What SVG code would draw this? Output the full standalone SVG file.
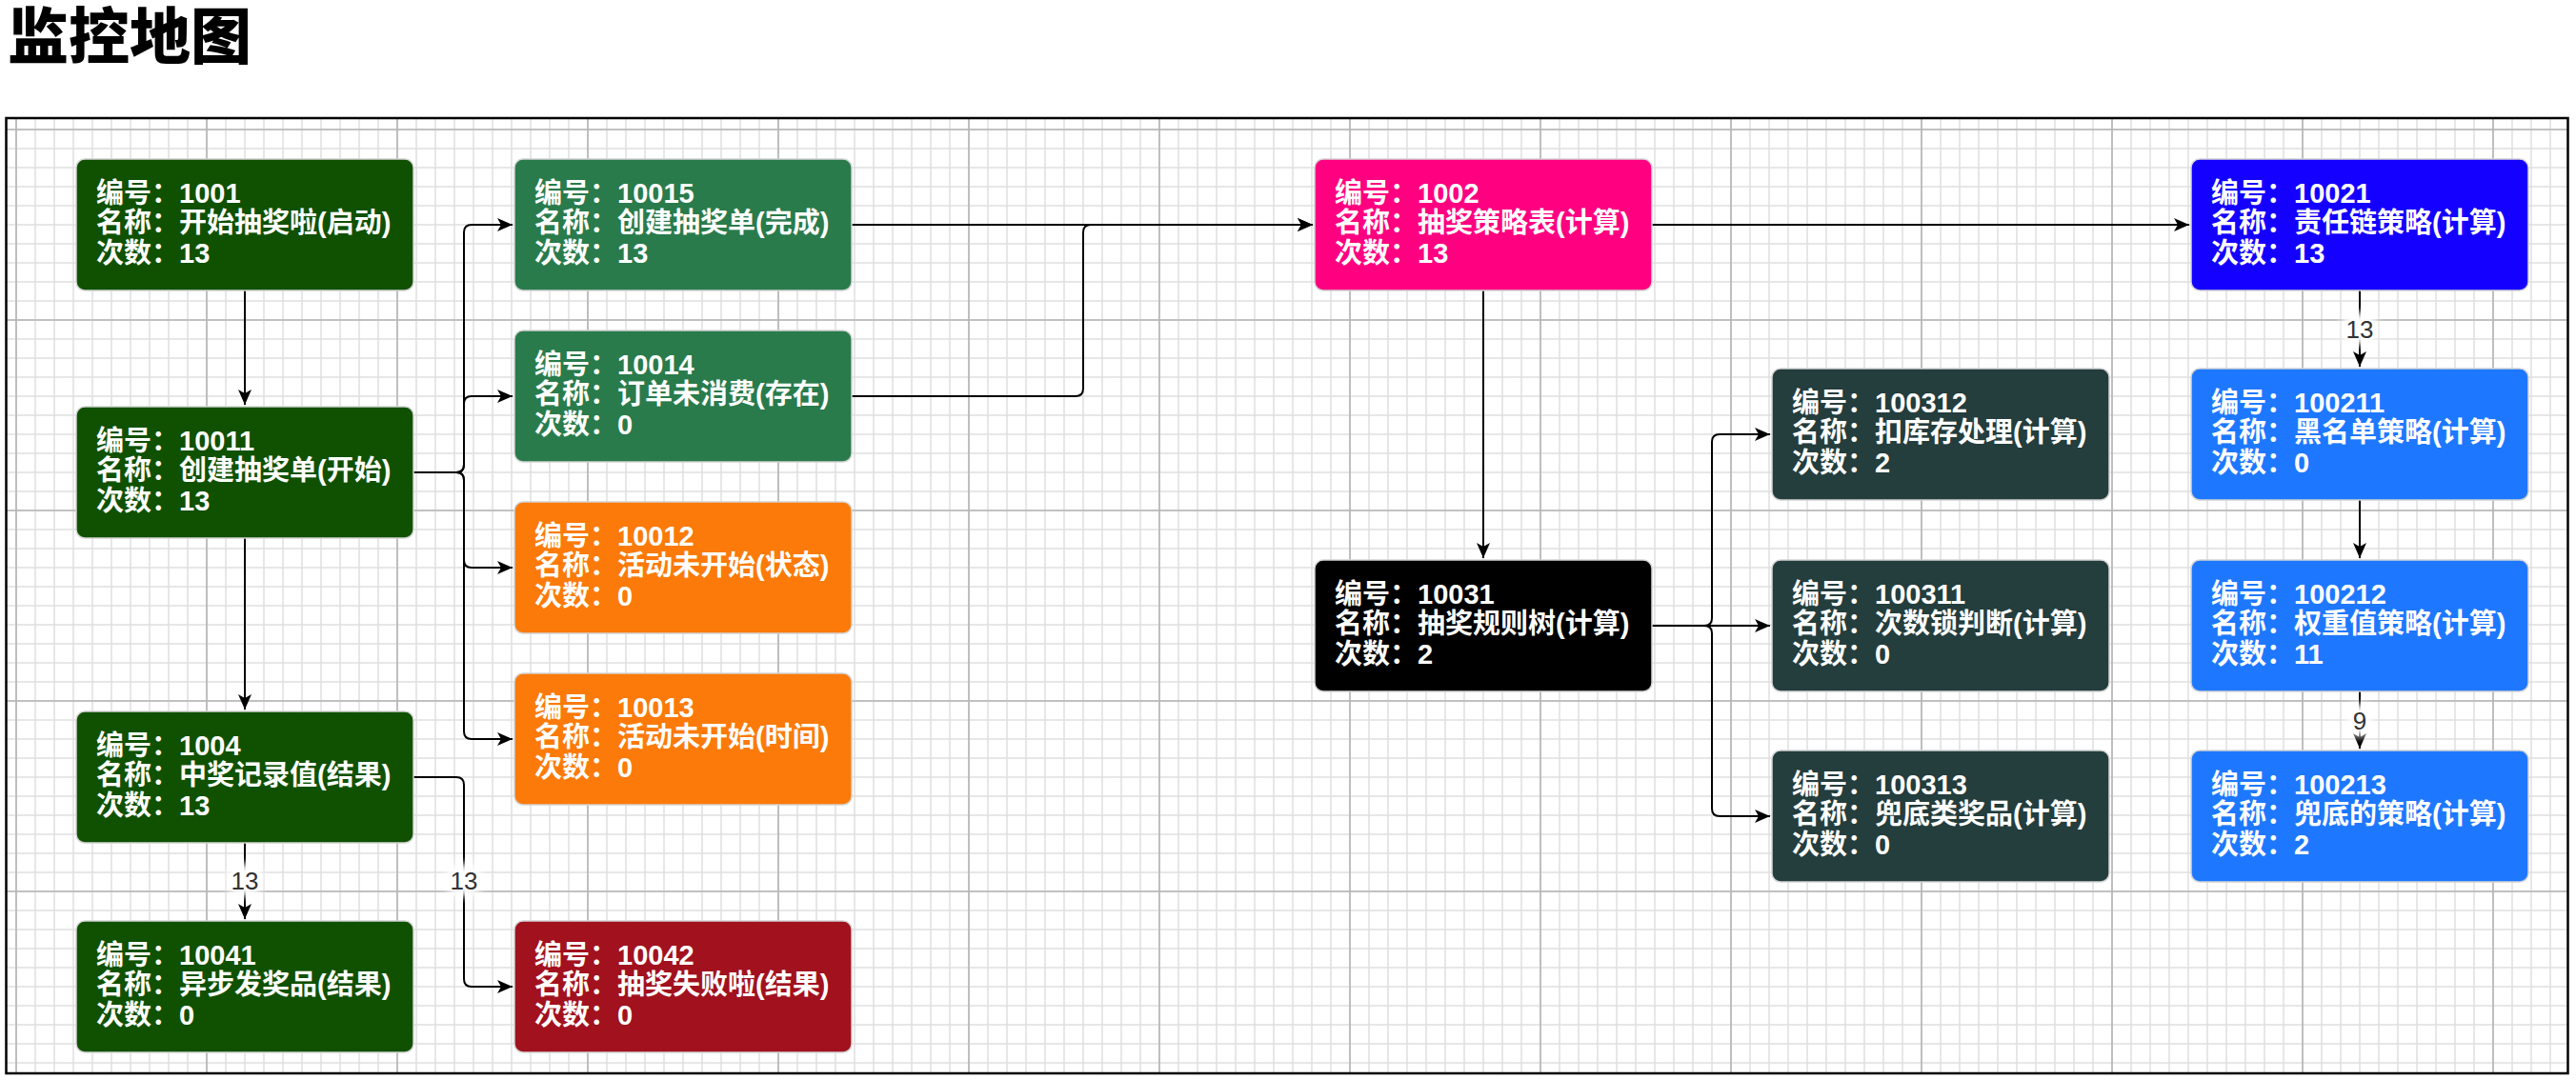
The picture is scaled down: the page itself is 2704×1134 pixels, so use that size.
<svg xmlns="http://www.w3.org/2000/svg" width="2704" height="1134" viewBox="0 0 2704 1134">
<defs>
<style>
.n rect{stroke:#d4d4d4;stroke-width:1.5}
.n text{font-family:"Liberation Sans","Noto Sans CJK SC",sans-serif;font-size:29px;font-weight:bold;fill:#fff}
.e{fill:none;stroke:#000;stroke-width:2;marker-end:url(#arr)}
.lbl{font-family:"Liberation Sans","Noto Sans CJK SC",sans-serif;font-size:26px;fill:#333;text-anchor:middle}
.lbg{fill:#fff;filter:url(#glow)}
.title{font-family:"Noto Sans CJK SC","Liberation Sans",sans-serif;font-size:64px;font-weight:900;fill:#000}
</style>
<pattern id="minor" patternUnits="userSpaceOnUse" x="7" y="126" width="20" height="20">
<path d="M10 0V20M0 10H20" stroke="#e0e0e0" stroke-width="1.5" fill="none"/>
</pattern>
<pattern id="major" patternUnits="userSpaceOnUse" x="-83" y="36" width="200" height="200">
<path d="M100 0V200M0 100H200" stroke="#b5b5b5" stroke-width="1.6" fill="none"/>
</pattern>
<marker id="arr" markerUnits="userSpaceOnUse" viewBox="0 0 18 16" markerWidth="18" markerHeight="16" refX="17" refY="8" orient="auto">
<path d="M1 1L17 8L1 15L5 8Z" fill="#000"/>
</marker>
<filter id="glow" x="-50%" y="-50%" width="200%" height="200%">
<feGaussianBlur stdDeviation="4"/>
</filter>
</defs>
<rect width="2704" height="1134" fill="#fff"/>
<text class="title" x="8" y="61">监控地图</text>
<g id="canvas">
<rect x="7" y="124" width="2688" height="1003" fill="url(#minor)"/>
<rect x="7" y="124" width="2688" height="1003" fill="url(#major)"/>
<rect x="6.5" y="124" width="2689" height="1003" fill="none" stroke="#000" stroke-width="2.5"/>
</g>
<g id="connectors">
<path class="e" d="M257 305V425"/>
<path class="e" d="M257 565V745"/>
<path class="e" d="M257 885V965"/>
<path class="e" d="M434 816H479Q487 816 487 824V1028Q487 1036 495 1036H538"/>
<path class="e" d="M434 496H479Q487 496 487 488V244Q487 236 495 236H538"/>
<path class="e" d="M434 496H479Q487 496 487 488V424Q487 416 495 416H538"/>
<path class="e" d="M434 496H479Q487 496 487 504V588Q487 596 495 596H538"/>
<path class="e" d="M434 496H479Q487 496 487 504V768Q487 776 495 776H538"/>
<path class="e" d="M894 236H1378"/>
<path class="e" d="M894 416H1129Q1137 416 1137 408V244Q1137 236 1145 236H1378"/>
<path class="e" d="M1557 305V586"/>
<path class="e" d="M1734 236H2298"/>
<path class="e" d="M1734 657H1789Q1797 657 1797 649V464Q1797 456 1805 456H1858"/>
<path class="e" d="M1734 657H1858"/>
<path class="e" d="M1734 657H1789Q1797 657 1797 665V849Q1797 857 1805 857H1858"/>
<path class="e" d="M2477 305V385"/>
<path class="e" d="M2477 525V586"/>
<path class="e" d="M2477 726V786"/>
<g id="edge-labels">
<rect class="lbg" x="239" y="907" width="36" height="34" rx="12"/>
<text class="lbl" x="257" y="933.5">13</text>
<rect class="lbg" x="469" y="907" width="36" height="34" rx="12"/>
<text class="lbl" x="487" y="933.5">13</text>
<rect class="lbg" x="2459" y="328" width="36" height="34" rx="12"/>
<text class="lbl" x="2477" y="354.5">13</text>
<rect class="lbg" x="2465" y="739" width="24" height="34" rx="10"/>
<text class="lbl" x="2477" y="765.5">9</text>
</g>
</g>
<g id="n1001" class="n"><rect x="80" y="167" width="354" height="138" rx="9" fill="#0F5101"/><text><tspan x="101" y="212.5">编号：1001</tspan><tspan x="101" y="244">名称：开始抽奖啦(启动)</tspan><tspan x="101" y="275.5">次数：13</tspan></text></g>
<g id="n10011" class="n"><rect x="80" y="427" width="354" height="138" rx="9" fill="#0F5101"/><text><tspan x="101" y="472.5">编号：10011</tspan><tspan x="101" y="504">名称：创建抽奖单(开始)</tspan><tspan x="101" y="535.5">次数：13</tspan></text></g>
<g id="n1004" class="n"><rect x="80" y="747" width="354" height="138" rx="9" fill="#0F5101"/><text><tspan x="101" y="792.5">编号：1004</tspan><tspan x="101" y="824">名称：中奖记录值(结果)</tspan><tspan x="101" y="855.5">次数：13</tspan></text></g>
<g id="n10041" class="n"><rect x="80" y="967" width="354" height="138" rx="9" fill="#0F5101"/><text><tspan x="101" y="1012.5">编号：10041</tspan><tspan x="101" y="1044">名称：异步发奖品(结果)</tspan><tspan x="101" y="1075.5">次数：0</tspan></text></g>
<g id="n10015" class="n"><rect x="540" y="167" width="354" height="138" rx="9" fill="#297B4C"/><text><tspan x="561" y="212.5">编号：10015</tspan><tspan x="561" y="244">名称：创建抽奖单(完成)</tspan><tspan x="561" y="275.5">次数：13</tspan></text></g>
<g id="n10014" class="n"><rect x="540" y="347" width="354" height="138" rx="9" fill="#297B4C"/><text><tspan x="561" y="392.5">编号：10014</tspan><tspan x="561" y="424">名称：订单未消费(存在)</tspan><tspan x="561" y="455.5">次数：0</tspan></text></g>
<g id="n10012" class="n"><rect x="540" y="527" width="354" height="138" rx="9" fill="#FB7A0A"/><text><tspan x="561" y="572.5">编号：10012</tspan><tspan x="561" y="604">名称：活动未开始(状态)</tspan><tspan x="561" y="635.5">次数：0</tspan></text></g>
<g id="n10013" class="n"><rect x="540" y="707" width="354" height="138" rx="9" fill="#FB7A0A"/><text><tspan x="561" y="752.5">编号：10013</tspan><tspan x="561" y="784">名称：活动未开始(时间)</tspan><tspan x="561" y="815.5">次数：0</tspan></text></g>
<g id="n10042" class="n"><rect x="540" y="967" width="354" height="138" rx="9" fill="#A1111E"/><text><tspan x="561" y="1012.5">编号：10042</tspan><tspan x="561" y="1044">名称：抽奖失败啦(结果)</tspan><tspan x="561" y="1075.5">次数：0</tspan></text></g>
<g id="n1002" class="n"><rect x="1380" y="167" width="354" height="138" rx="9" fill="#FF0080"/><text><tspan x="1401" y="212.5">编号：1002</tspan><tspan x="1401" y="244">名称：抽奖策略表(计算)</tspan><tspan x="1401" y="275.5">次数：13</tspan></text></g>
<g id="n10031" class="n"><rect x="1380" y="588" width="354" height="138" rx="9" fill="#000000"/><text><tspan x="1401" y="633.5">编号：10031</tspan><tspan x="1401" y="665">名称：抽奖规则树(计算)</tspan><tspan x="1401" y="696.5">次数：2</tspan></text></g>
<g id="n100312" class="n"><rect x="1860" y="387" width="354" height="138" rx="9" fill="#243D3D"/><text><tspan x="1881" y="432.5">编号：100312</tspan><tspan x="1881" y="464">名称：扣库存处理(计算)</tspan><tspan x="1881" y="495.5">次数：2</tspan></text></g>
<g id="n100311" class="n"><rect x="1860" y="588" width="354" height="138" rx="9" fill="#243D3D"/><text><tspan x="1881" y="633.5">编号：100311</tspan><tspan x="1881" y="665">名称：次数锁判断(计算)</tspan><tspan x="1881" y="696.5">次数：0</tspan></text></g>
<g id="n100313" class="n"><rect x="1860" y="788" width="354" height="138" rx="9" fill="#243D3D"/><text><tspan x="1881" y="833.5">编号：100313</tspan><tspan x="1881" y="865">名称：兜底类奖品(计算)</tspan><tspan x="1881" y="896.5">次数：0</tspan></text></g>
<g id="n10021" class="n"><rect x="2300" y="167" width="354" height="138" rx="9" fill="#1400FF"/><text><tspan x="2321" y="212.5">编号：10021</tspan><tspan x="2321" y="244">名称：责任链策略(计算)</tspan><tspan x="2321" y="275.5">次数：13</tspan></text></g>
<g id="n100211" class="n"><rect x="2300" y="387" width="354" height="138" rx="9" fill="#1E78FF"/><text><tspan x="2321" y="432.5">编号：100211</tspan><tspan x="2321" y="464">名称：黑名单策略(计算)</tspan><tspan x="2321" y="495.5">次数：0</tspan></text></g>
<g id="n100212" class="n"><rect x="2300" y="588" width="354" height="138" rx="9" fill="#1E78FF"/><text><tspan x="2321" y="633.5">编号：100212</tspan><tspan x="2321" y="665">名称：权重值策略(计算)</tspan><tspan x="2321" y="696.5">次数：11</tspan></text></g>
<g id="n100213" class="n"><rect x="2300" y="788" width="354" height="138" rx="9" fill="#1E78FF"/><text><tspan x="2321" y="833.5">编号：100213</tspan><tspan x="2321" y="865">名称：兜底的策略(计算)</tspan><tspan x="2321" y="896.5">次数：2</tspan></text></g>
</svg>
